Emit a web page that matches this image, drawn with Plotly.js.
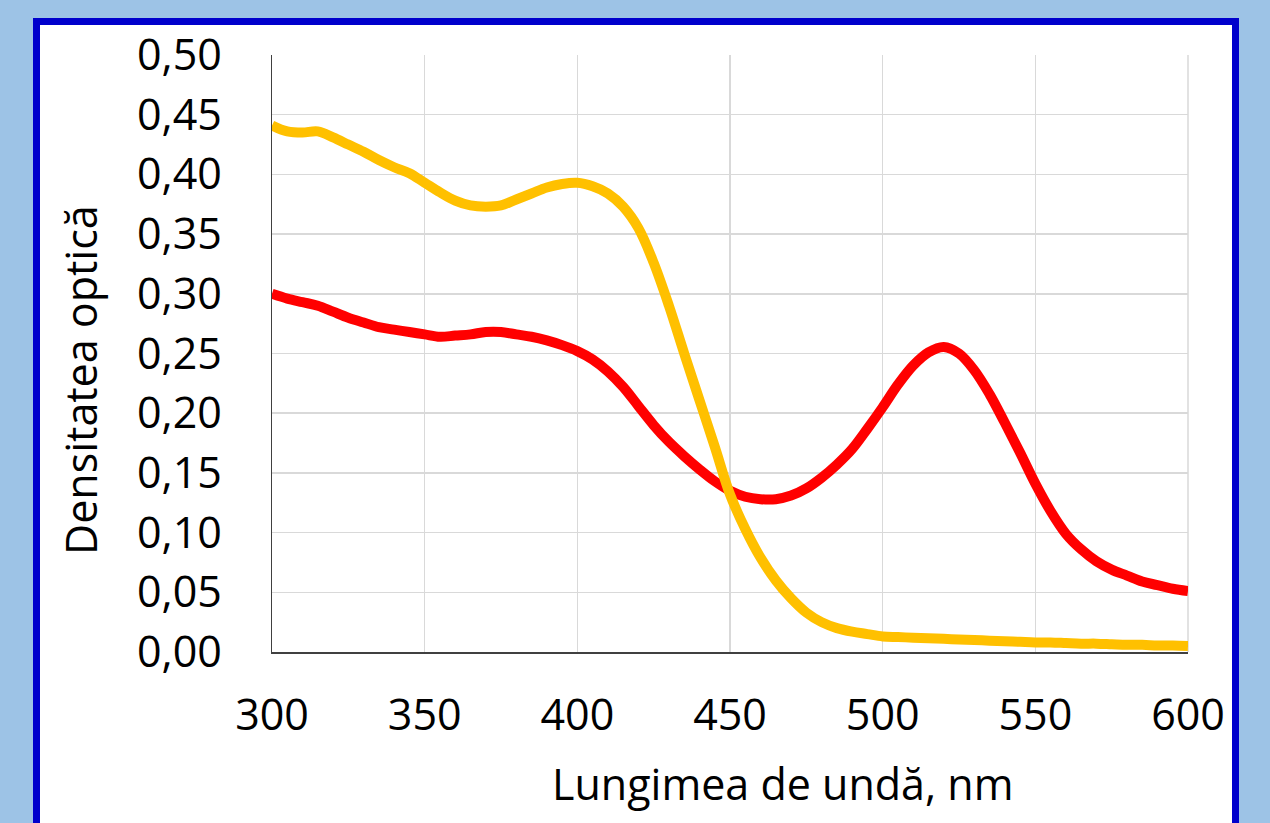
<!DOCTYPE html>
<html>
<head>
<meta charset="utf-8">
<script src="https://cdn.plot.ly/plotly-3.0.1.min.js"></script>
<style>
  html, body { margin: 0; padding: 0; width: 1270px; height: 823px; overflow: hidden; background: #9DC3E6; }
  #frame { position: absolute; left: 33px; top: 18px; width: 1192px; height: 900px; background: #FFFFFF; border: 7px solid #0000CC; }
  #chart { position: absolute; left: 0; top: 0; width: 1270px; height: 823px; }
</style>
</head>
<body>
<div id="frame"></div>
<div id="chart"></div>
<script>
// Wavelength (nm) and optical density values
const wavelengths = [300,305,310,315,320,325,330,335,340,345,350,355,360,365,370,375,380,385,390,395,400,405,410,415,420,425,430,435,440,445,450,455,460,465,470,475,480,485,490,495,500,505,510,515,520,525,530,535,540,545,550,555,560,565,570,575,580,585,590,595,600];

const redSeries = [0.300,0.296,0.293,0.290,0.285,0.280,0.276,0.272,0.270,0.268,0.266,0.264,0.265,0.266,0.268,0.268,0.266,0.264,0.261,0.257,0.252,0.245,0.235,0.222,0.206,0.190,0.176,0.164,0.153,0.143,0.135,0.130,0.128,0.128,0.131,0.137,0.146,0.157,0.170,0.187,0.205,0.224,0.240,0.251,0.2555,0.250,0.236,0.216,0.192,0.167,0.141,0.118,0.099,0.086,0.076,0.069,0.064,0.059,0.056,0.053,0.051];

const yellowSeries = [0.441,0.436,0.435,0.436,0.431,0.425,0.419,0.412,0.406,0.401,0.393,0.385,0.378,0.374,0.373,0.374,0.379,0.384,0.389,0.392,0.393,0.390,0.384,0.373,0.355,0.326,0.290,0.250,0.211,0.172,0.132,0.103,0.079,0.060,0.045,0.033,0.025,0.020,0.017,0.015,0.013,0.0125,0.012,0.0115,0.011,0.0105,0.010,0.0095,0.009,0.0085,0.008,0.008,0.0075,0.007,0.007,0.0065,0.006,0.006,0.0055,0.0055,0.005];

const xTickVals = [300,350,400,450,500,550,600];
const yTickVals = [0,0.05,0.10,0.15,0.20,0.25,0.30,0.35,0.40,0.45,0.50];
const yTickText = ['0,00','0,05','0,10','0,15','0,20','0,25','0,30','0,35','0,40','0,45','0,50'];
const xTitle = 'Lungimea de undă, nm';
const yTitle = 'Densitatea optică';

const FONT = '"Open Sans", "Liberation Sans", Arial, sans-serif';
const L = 272, R = 1188, T = 55, B = 652;
const px2x = p => (p - L) / (R - L);
const px2y = p => (B - p) / (B - T);

const traces = [
  { x: wavelengths, y: redSeries, type: 'scatter', mode: 'lines',
    line: { color: '#FF0000', width: 10, shape: 'spline', smoothing: 1.0 }, showlegend: false, hoverinfo: 'skip' },
  { x: wavelengths, y: yellowSeries, type: 'scatter', mode: 'lines',
    line: { color: '#FFC000', width: 10, shape: 'spline', smoothing: 1.0 }, showlegend: false, hoverinfo: 'skip' }
];

const layout = {
  width: 1270, height: 823,
  margin: { l: L, r: 1270 - R, t: T, b: 823 - B, pad: 0 },
  paper_bgcolor: 'rgba(0,0,0,0)',
  plot_bgcolor: '#FFFFFF',
  showlegend: false,
  font: { family: FONT, color: '#000000', size: 43 },
  xaxis: {
    range: [300, 600], tickvals: xTickVals, ticktext: xTickVals.map(String),
    showgrid: true, gridcolor: '#D9D9D9', gridwidth: 1.5,
    showline: true, linecolor: '#404040', linewidth: 1.5,
    ticks: '', ticklabelstandoff: 25,
    tickfont: { family: FONT, size: 43, color: '#000000' },
    zeroline: false, fixedrange: true
  },
  yaxis: {
    range: [0, 0.5], tickvals: yTickVals, ticktext: yTickText,
    showgrid: true, gridcolor: '#D9D9D9', gridwidth: 1.5,
    showline: true, linecolor: '#404040', linewidth: 1.5,
    ticks: '', ticklabelstandoff: 40,
    tickfont: { family: FONT, size: 43, color: '#000000' },
    zeroline: false, fixedrange: true
  },
  shapes: [
    { type: 'line', xref: 'paper', yref: 'paper', x0: 1, x1: 1, y0: 0, y1: 1, line: { color: '#D9D9D9', width: 1.5 }, layer: 'below' }
  ],
  annotations: [
    { text: xTitle, xref: 'paper', yref: 'paper', x: px2x(782), y: px2y(783), xanchor: 'center', yanchor: 'middle',
      showarrow: false, font: { family: FONT, size: 43, color: '#000000' } },
    { text: yTitle, xref: 'paper', yref: 'paper', x: px2x(81), y: px2y(380), xanchor: 'center', yanchor: 'middle',
      textangle: -90, showarrow: false, font: { family: FONT, size: 43, color: '#000000' } }
  ]
};

Plotly.newPlot('chart', traces, layout, { staticPlot: true, displayModeBar: false });
</script>
</body>
</html>
